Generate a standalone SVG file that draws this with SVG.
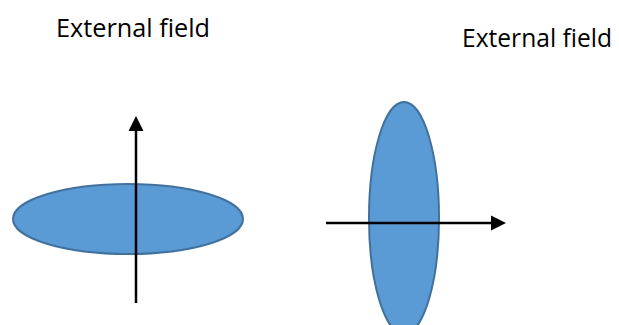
<svg xmlns="http://www.w3.org/2000/svg" width="619" height="325" viewBox="0 0 619 325">
<style>
.lbl{font-family:"Open Sans","Liberation Sans",sans-serif;font-size:25px;fill:#000}
.ell{fill:#5B9BD5;stroke:#41719C;stroke-width:2}
.arr{stroke:#000;stroke-width:2.5;fill:none}
</style>
<defs>
<marker id="ah" viewBox="0 0 10 10" refX="0" refY="5" markerWidth="6" markerHeight="6.4" markerUnits="strokeWidth" orient="auto">
<path d="M0,0 L10,5 L0,10 Z" fill="#000"/>
</marker>
</defs>
<rect width="619" height="325" fill="#fff"/>
<g id="label-left"><text class="lbl" x="56" y="37" textLength="154" lengthAdjust="spacingAndGlyphs">External field</text></g>
<g id="label-right"><text class="lbl" x="462" y="47" textLength="150" lengthAdjust="spacingAndGlyphs">External field</text></g>
<g id="ellipse-left"><ellipse class="ell" cx="128" cy="219" rx="115" ry="35"/></g>
<g id="ellipse-right"><ellipse class="ell" cx="404" cy="218" rx="35" ry="116"/></g>
<g id="connectors">
<line class="arr" x1="136" y1="303" x2="136" y2="131" marker-end="url(#ah)"/>
<line class="arr" x1="326" y1="223" x2="491" y2="223" marker-end="url(#ah)"/>
</g>
</svg>
